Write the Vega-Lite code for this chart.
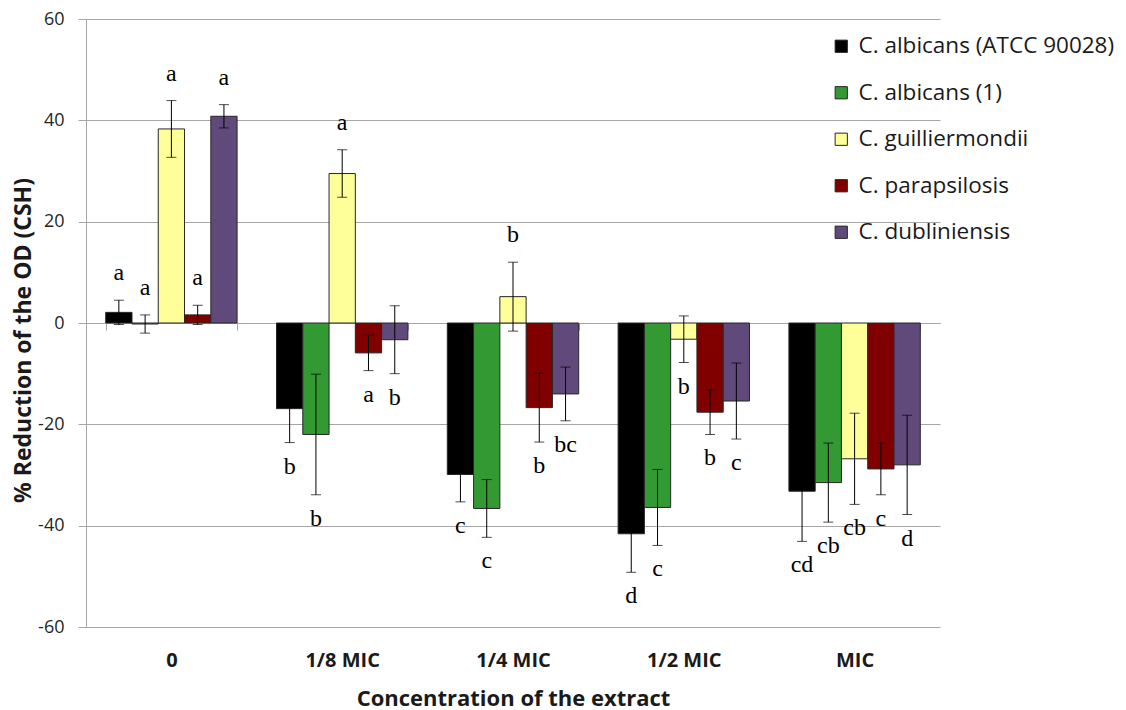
{
  "$schema": "https://vega.github.io/schema/vega-lite/v6.json",
  "width": 854,
  "height": 608,
  "autosize": {"type": "none"},
  "padding": {"left": 86, "top": 19, "right": 186, "bottom": 83},
  "background": "white",
  "config": {
    "view": {"stroke": null},
    "axisY": {
      "domainColor": "#a6a6a6",
      "tickColor": "#a6a6a6",
      "tickSize": 8,
      "gridColor": "#a6a6a6",
      "grid": true,
      "labelFont": "Open Sans",
      "labelFontSize": 18,
      "labelColor": "#262626",
      "labelPadding": 14,
      "titleFont": "Open Sans",
      "titleFontSize": 23,
      "titleFontWeight": "bold",
      "titleColor": "#1a1a1a",
      "titleX": -63,
      "titleY": 321,
      "titleAngle": 270,
      "titleAlign": "center",
      "titleBaseline": "middle"
    },
    "axisX": {
      "domainColor": "#a6a6a6",
      "tickColor": "#a6a6a6",
      "tickSize": 7,
      "tickBand": "extent",
      "grid": false,
      "labelPadding": 320,
      "labelAngle": 0,
      "labelFont": "Open Sans",
      "labelFontWeight": "bold",
      "labelFontSize": 20,
      "labelColor": "#1a1a1a",
      "titleFont": "Open Sans",
      "titleFontWeight": "bold",
      "titleFontSize": 22,
      "titleColor": "#1a1a1a",
      "titleY": 375,
      "titleBaseline": "middle"
    }
  },
  "data": {
    "values": [
      {"conc": "0", "strain": "C. albicans (ATCC 90028)", "value": 2.1, "sd": 2.4, "letter": "a"},
      {"conc": "0", "strain": "C. albicans (1)", "value": -0.2, "sd": 1.8, "letter": "a"},
      {"conc": "0", "strain": "C. guilliermondii", "value": 38.3, "sd": 5.6, "letter": "a"},
      {"conc": "0", "strain": "C. parapsilosis", "value": 1.6, "sd": 1.9, "letter": "a"},
      {"conc": "0", "strain": "C. dubliniensis", "value": 40.8, "sd": 2.3, "letter": "a"},
      {"conc": "1/8 MIC", "strain": "C. albicans (ATCC 90028)", "value": -16.9, "sd": 6.7, "letter": "b"},
      {"conc": "1/8 MIC", "strain": "C. albicans (1)", "value": -22.0, "sd": 11.9, "letter": "b"},
      {"conc": "1/8 MIC", "strain": "C. guilliermondii", "value": 29.5, "sd": 4.7, "letter": "a"},
      {"conc": "1/8 MIC", "strain": "C. parapsilosis", "value": -5.9, "sd": 3.5, "letter": "a"},
      {"conc": "1/8 MIC", "strain": "C. dubliniensis", "value": -3.3, "sd": 6.7, "letter": "b"},
      {"conc": "1/4 MIC", "strain": "C. albicans (ATCC 90028)", "value": -29.9, "sd": 5.4, "letter": "c"},
      {"conc": "1/4 MIC", "strain": "C. albicans (1)", "value": -36.6, "sd": 5.7, "letter": "c"},
      {"conc": "1/4 MIC", "strain": "C. guilliermondii", "value": 5.2, "sd": 6.8, "letter": "b"},
      {"conc": "1/4 MIC", "strain": "C. parapsilosis", "value": -16.7, "sd": 6.8, "letter": "b"},
      {"conc": "1/4 MIC", "strain": "C. dubliniensis", "value": -14.0, "sd": 5.3, "letter": "bc"},
      {"conc": "1/2 MIC", "strain": "C. albicans (ATCC 90028)", "value": -41.6, "sd": 7.6, "letter": "d"},
      {"conc": "1/2 MIC", "strain": "C. albicans (1)", "value": -36.4, "sd": 7.5, "letter": "c"},
      {"conc": "1/2 MIC", "strain": "C. guilliermondii", "value": -3.2, "sd": 4.6, "letter": "b"},
      {"conc": "1/2 MIC", "strain": "C. parapsilosis", "value": -17.6, "sd": 4.4, "letter": "b"},
      {"conc": "1/2 MIC", "strain": "C. dubliniensis", "value": -15.4, "sd": 7.5, "letter": "c"},
      {"conc": "MIC", "strain": "C. albicans (ATCC 90028)", "value": -33.2, "sd": 9.9, "letter": "cd"},
      {"conc": "MIC", "strain": "C. albicans (1)", "value": -31.5, "sd": 7.8, "letter": "cb"},
      {"conc": "MIC", "strain": "C. guilliermondii", "value": -26.8, "sd": 9.0, "letter": "cb"},
      {"conc": "MIC", "strain": "C. parapsilosis", "value": -28.8, "sd": 5.1, "letter": "c"},
      {"conc": "MIC", "strain": "C. dubliniensis", "value": -28.0, "sd": 9.8, "letter": "d"}
    ]
  },
  "transform": [
    {"calculate": "datum.value - datum.sd", "as": "lo"},
    {"calculate": "datum.value + datum.sd", "as": "hi"}
  ],
  "encoding": {
    "x": {
      "field": "conc",
      "type": "nominal",
      "sort": ["0", "1/8 MIC", "1/4 MIC", "1/2 MIC", "MIC"],
      "scale": {"paddingInner": 0.2308, "paddingOuter": 0.1154},
      "axis": {"offset": -304, "title": "Concentration of the extract"}
    },
    "xOffset": {
      "field": "strain",
      "type": "nominal",
      "sort": ["C. albicans (ATCC 90028)", "C. albicans (1)", "C. guilliermondii", "C. parapsilosis", "C. dubliniensis"],
      "scale": {"paddingInner": 0, "paddingOuter": 0}
    }
  },
  "layer": [
    {
      "mark": {"type": "bar", "stroke": "#262626", "strokeWidth": 1},
      "encoding": {
        "y": {
          "field": "value",
          "type": "quantitative",
          "scale": {"domain": [-60, 60], "nice": false},
          "title": "% Reduction of the OD (CSH)",
          "axis": {"values": [-60, -40, -20, 0, 20, 40, 60], "labelExpr": "'' + datum.value"}
        },
        "color": {
          "field": "strain",
          "type": "nominal",
          "scale": {
            "domain": ["C. albicans (ATCC 90028)", "C. albicans (1)", "C. guilliermondii", "C. parapsilosis", "C. dubliniensis"],
            "range": ["#000000", "#339933", "#FFFF99", "#800000", "#604A7B"]
          },
          "legend": {
            "orient": "none",
            "legendX": 744,
            "legendY": 16,
            "title": null,
            "symbolType": "square",
            "symbolSize": 150,
            "symbolStrokeColor": "#262626",
            "symbolStrokeWidth": 1,
            "symbolOpacity": 1,
            "labelFont": "Open Sans",
            "labelFontSize": 22.5,
            "labelColor": "#1a1a1a",
            "labelOffset": 6,
            "rowPadding": 23.5,
            "labelLimit": 400
          }
        }
      }
    },
    {
      "mark": {"type": "rule", "color": "black", "strokeWidth": 1},
      "encoding": {
        "y": {"field": "lo", "type": "quantitative", "title": "% Reduction of the OD (CSH)"},
        "y2": {"field": "hi"}
      }
    },
    {
      "mark": {"type": "tick", "color": "black", "thickness": 1, "size": 10},
      "encoding": {
        "y": {"field": "lo", "type": "quantitative", "title": "% Reduction of the OD (CSH)"}
      }
    },
    {
      "mark": {"type": "tick", "color": "black", "thickness": 1, "size": 10},
      "encoding": {
        "y": {"field": "hi", "type": "quantitative", "title": "% Reduction of the OD (CSH)"}
      }
    },
    {
      "transform": [{"filter": "datum.value > -1"}],
      "mark": {"type": "text", "font": "Liberation Serif", "fontSize": 24, "dy": -27, "baseline": "middle", "color": "black"},
      "encoding": {
        "y": {"field": "hi", "type": "quantitative", "title": "% Reduction of the OD (CSH)"},
        "text": {"field": "letter"}
      }
    },
    {
      "transform": [{"filter": "datum.value <= -1"}],
      "mark": {"type": "text", "font": "Liberation Serif", "fontSize": 24, "dy": 24, "baseline": "middle", "color": "black"},
      "encoding": {
        "y": {"field": "lo", "type": "quantitative", "title": "% Reduction of the OD (CSH)"},
        "text": {"field": "letter"}
      }
    }
  ]
}
